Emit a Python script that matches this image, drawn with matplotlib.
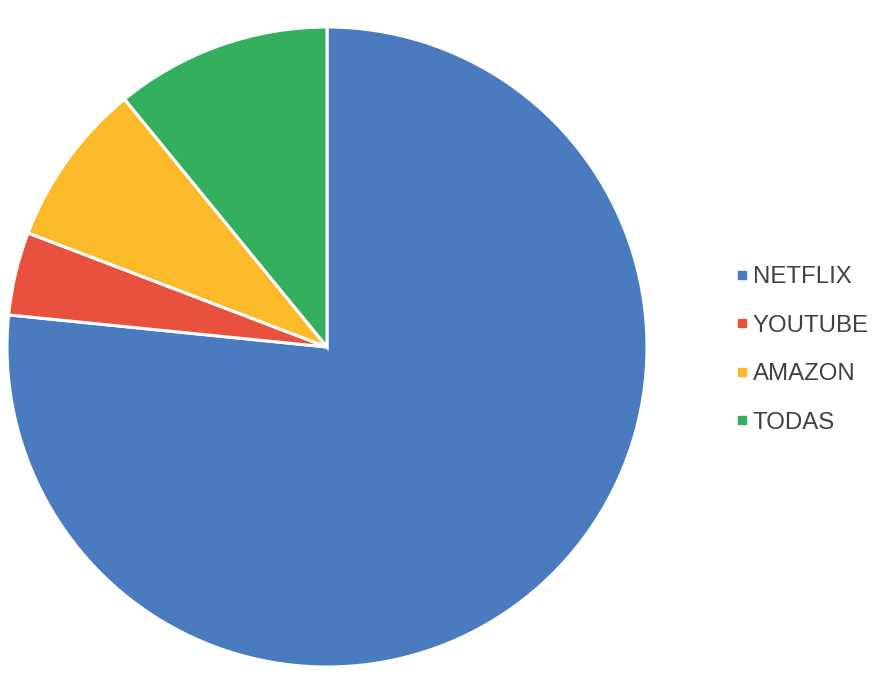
import matplotlib.pyplot as plt
from matplotlib.lines import Line2D

plt.rcParams['font.family'] = ['Liberation Sans', 'DejaVu Sans']

labels = ['NETFLIX', 'YOUTUBE', 'AMAZON', 'TODAS']
values = [76.6, 4.2, 8.3, 10.9]
colors = ['#4A7BBF', '#E9513F', '#FBBA2A', '#33AF5E']

W, H = 896, 700
fig = plt.figure(figsize=(W / 100, H / 100), dpi=100)

# pie centred at (327, 347) px, radius 320 px
cx, cy, r = 327, 347, 320
ax = fig.add_axes([(cx - r) / W, (H - cy - r) / H, 2 * r / W, 2 * r / H])
ax.pie(values, colors=colors, startangle=90, counterclock=False,
       wedgeprops=dict(edgecolor='white', linewidth=2.2))
ax.set_xlim(-1, 1)
ax.set_ylim(-1, 1)
ax.set_aspect('equal')
ax.axis('off')

handles = [Line2D([], [], marker='s', linestyle='', markersize=6,
                  markerfacecolor=c, markeredgecolor=c) for c in colors]
leg = fig.legend(handles, labels, loc='center left',
                 bbox_to_anchor=(725 / W, 1 - 350 / H), frameon=False,
                 fontsize=17.3, handlelength=0.4, handletextpad=0.25,
                 labelspacing=1.1, borderpad=0)
for t in leg.get_texts():
    t.set_color('#404040')

fig.savefig('out.png', dpi=100)
